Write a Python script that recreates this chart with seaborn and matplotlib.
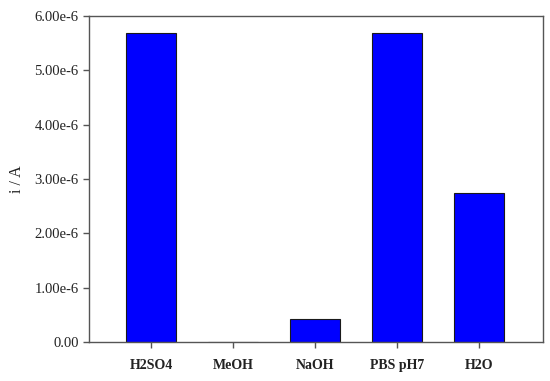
import matplotlib
matplotlib.use("Agg")
import matplotlib.pyplot as plt
import seaborn as sns
import pandas as pd
from matplotlib.ticker import FixedLocator

categories = ["H2SO4", "MeOH", "NaOH", "PBS pH7", "H2O"]
values = [5.69e-6, 0.0, 0.42e-6, 5.69e-6, 2.75e-6]
yticks = [0, 1e-6, 2e-6, 3e-6, 4e-6, 5e-6, 6e-6]
ytick_labels = ["0.00", "1.00e-6", "2.00e-6", "3.00e-6", "4.00e-6", "5.00e-6", "6.00e-6"]

sns.set_style("ticks")
plt.rcParams['font.family'] = ['Liberation Serif', 'DejaVu Serif']

df = pd.DataFrame({"cat": categories, "val": values})

fig = plt.figure(figsize=(5.5, 3.81), dpi=100)
ax = fig.add_axes([89/550, 1 - 342/381, (543-89)/550, (342-16)/381])
sns.barplot(data=df, x="cat", y="val", color="#0000FF", saturation=1,
            width=0.61, edgecolor="#1a1a1a", linewidth=0.8, ax=ax)

ax.set_xlim(-0.756, 4.78)
ax.set_ylim(0, 6e-6)
ax.yaxis.set_major_locator(FixedLocator(yticks))
ax.set_yticklabels(ytick_labels, fontsize=10.5, color="#222222")
ax.set_xticks(range(len(categories)))
ax.set_xticklabels(categories, fontsize=10, fontweight="bold", color="#222222")
ax.set_xlabel("")
ax.set_ylabel("i / A", fontsize=11.5, color="#222222", labelpad=7)
for s in ax.spines.values():
    s.set_visible(True)
    s.set_color("#555555")
    s.set_linewidth(1.0)
ax.tick_params(axis="both", direction="out", length=4, width=1, color="#555555")
ax.tick_params(axis="x", pad=8)

fig.savefig("out.png", dpi=100)
